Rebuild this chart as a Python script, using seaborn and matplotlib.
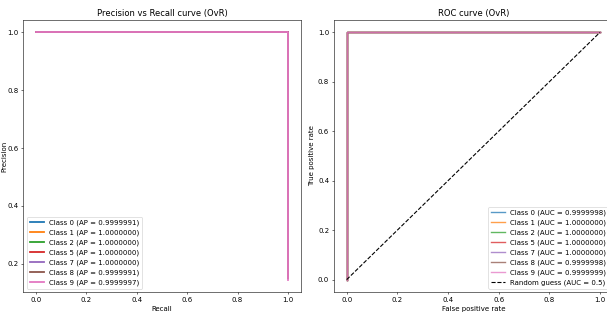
import pandas as pd
import numpy as np
import matplotlib
matplotlib.use("Agg")
import matplotlib.pyplot as plt
import seaborn as sns

# classes present in the one-vs-rest evaluation
classes = [0, 1, 2, 5, 7, 8, 9]
ap_scores = [0.9999991, 1.0000000, 1.0000000, 1.0000000, 1.0000000, 0.9999991, 0.9999997]
auc_scores = [0.9999998, 1.0000000, 1.0000000, 1.0000000, 1.0000000, 0.9999998, 0.9999999]

# precision at recall = 1 (lowest threshold), roughly the class prevalence
base_precision = [0.15, 0.15, 0.15, 0.15, 0.15, 0.15, 0.145]

# curve points (all classes are essentially perfect)
pr_recall = [1.0, 1.0, 0.0]
pr_precision_top = [1.0, 1.0]
roc_fpr = [0.0, 0.0, 1.0]
roc_tpr = [0.0, 1.0, 1.0]
chance_x = [0.0, 1.0]
chance_y = [0.0, 1.0]

palette = sns.color_palette("tab10")

# drawn at double size then halved, like a downscaled notebook figure
fig = plt.figure(figsize=(12.14, 6.4), dpi=50)
ax1 = fig.add_axes([23.4 / 607, 1 - 292 / 320, 277.2 / 607, 272 / 320])
ax2 = fig.add_axes([334.0 / 607, 1 - 292 / 320, 278.6 / 607, 272 / 320])

for i, c in enumerate(classes):
    df = pd.DataFrame({
        "recall": pr_recall,
        "precision": [base_precision[i]] + pr_precision_top,
    })
    sns.lineplot(data=df, x="recall", y="precision", ax=ax1, sort=False,
                 estimator=None, color=palette[i], linewidth=2.6,
                 label=f"Class {c} (AP = {ap_scores[i]:.7f})")

ax1.set_title("Precision vs Recall curve (OvR)")
ax1.set_xlabel("Recall")
ax1.set_ylabel("Precision", labelpad=0)
ax1.legend(loc="lower left")

for i, c in enumerate(classes):
    df = pd.DataFrame({"fpr": roc_fpr, "tpr": roc_tpr})
    sns.lineplot(data=df, x="fpr", y="tpr", ax=ax2, sort=False,
                 estimator=None, color=palette[i], linewidth=2, alpha=0.75,
                 label=f"Class {c} (AUC = {auc_scores[i]:.7f})")

chance = pd.DataFrame({"x": chance_x, "y": chance_y})
sns.lineplot(data=chance, x="x", y="y", ax=ax2, color="black", linestyle="--",
             linewidth=1.6, label="Random guess (AUC = 0.5)")

ax2.set_title("ROC curve (OvR)")
ax2.set_xlabel("False positive rate")
ax2.set_ylabel("True positive rate")
ax2.legend(loc="lower right")

fig.savefig("out.png", dpi=50)
